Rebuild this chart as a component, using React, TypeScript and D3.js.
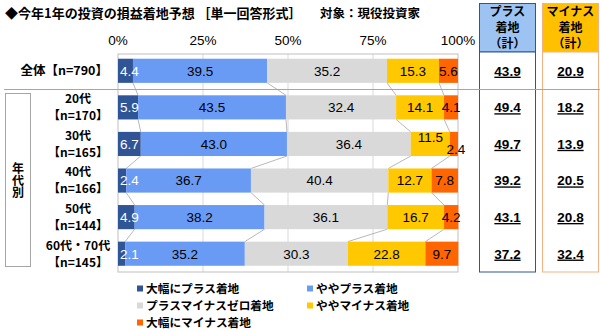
import React from "react";
import * as d3 from "d3";

const categories = ["全体", "20代", "30代", "40代", "50代", "60代・70代"];
const sampleSizes = ["790", "170", "165", "166", "144", "145"];
const seriesNames = ["大幅にプラス着地", "ややプラス着地", "プラスマイナスゼロ着地", "ややマイナス着地", "大幅にマイナス着地"];
const bigPlus = [4.4, 5.9, 6.7, 2.4, 4.9, 2.1];
const slightPlus = [39.5, 43.5, 43.0, 36.7, 38.2, 35.2];
const zeroResult = [35.2, 32.4, 36.4, 40.4, 36.1, 30.3];
const slightMinus = [15.3, 14.1, 11.5, 12.7, 16.7, 22.8];
const bigMinus = [5.6, 4.1, 2.4, 7.8, 4.2, 9.7];
const plusTotal = [43.9, 49.4, 49.7, 39.2, 43.1, 37.2];
const minusTotal = [20.9, 18.2, 13.9, 20.5, 20.8, 32.4];
const axisTicks = [0, 25, 50, 75, 100];

const colors = ["#2F5597", "#6A9BF4", "#D9D9D9", "#FFC800", "#FF6600"];
const FONT = "'Liberation Sans', 'Noto Sans CJK JP', sans-serif";
const JFONT = "'Noto Sans CJK JP', sans-serif";

export default function App() {
  const W = 600, H = 331;
  const series = [bigPlus, slightPlus, zeroResult, slightMinus, bigMinus];
  const x = d3.scaleLinear().domain([0, 100]).range([118, 458]);
  const y = d3.scaleBand<number>().domain(d3.range(categories.length)).range([52.5, 272]).paddingInner(0.34).paddingOuter(0.17);
  const bh = y.bandwidth();
  const rows = categories.map((c, i) => {
    let acc = 0;
    const segs = series.map((s, k) => {
      const x0 = acc;
      acc += s[i];
      return { k, v: s[i], x0, x1: acc };
    });
    return segs;
  });
  const plotTop = 54, plotBottom = 272;

  return (
    <svg width={W} height={H} style={{ position: "absolute", left: 0, top: 0, background: "#fff" }}>
      {/* title */}
      <text x={5} y={18} fontFamily={JFONT} fontWeight="bold" fontSize={13} fill="#000">
        ◆今年1年の投資の損益着地予想 ［単一回答形式］
      </text>
      <text x={320} y={18} fontFamily={JFONT} fontWeight="bold" fontSize={12.5} fill="#000">
        対象：現役投資家
      </text>
      {/* axis ticks */}
      {axisTicks.map((t) => (
        <text key={t} x={x(t)} y={45} textAnchor="middle" fontFamily={FONT} fontSize={13.5} fill="#000">
          {t}%
        </text>
      ))}
      {/* gridlines */}
      {axisTicks.slice(1, 4).map((t) => (
        <line key={t} x1={x(t)} x2={x(t)} y1={plotTop} y2={plotBottom} stroke="#D9D9D9" strokeWidth={1} />
      ))}
      {/* frame */}
      <rect x={x(0)} y={plotTop} width={x(100) - x(0)} height={plotBottom - plotTop} fill="none" stroke="#BFBFBF" strokeWidth={1} />
      {/* separator */}
      <line x1={4} x2={600} y1={89.5} y2={89.5} stroke="#A6A6A6" strokeWidth={1} />
      {/* series lines */}
      {rows.slice(0, -1).map((segs, i) =>
        segs.slice(0, 4).map((s, k) => (
          <line key={`c${i}-${k}`} x1={x(s.x1)} y1={(y(i) as number) + bh} x2={x(rows[i + 1][k].x1)} y2={y(i + 1) as number} stroke="#A6A6A6" strokeWidth={0.8} />
        ))
      )}
      {/* bars */}
      {rows.map((segs, i) =>
        segs.map((s) => (
          <rect key={`b${i}-${s.k}`} x={x(s.x0)} y={y(i)} width={x(s.x1) - x(s.x0)} height={bh} fill={colors[s.k]} />
        ))
      )}
      {/* bar labels */}
      {rows.map((segs, i) => {
        const cy = (y(i) as number) + bh / 2;
        return segs.map((s, k) => {
          let dy = 0;
          const next = segs[k + 1];
          if (k > 0 && s.v < 3) dy = 5;
          else if (next && next.k > 0 && next.v < 3) dy = -7;
          const cx = (x(s.x0) + x(s.x1)) / 2;
          const first = k === 0;
          return (
            <text key={`l${i}-${k}`} x={first ? x(0) + 2 : k > 0 && s.v < 3 ? cx + 2 : cx} y={cy + dy} dy="0.36em" textAnchor={first ? "start" : "middle"} fontFamily={FONT} fontSize={13.5} fill={first ? "#fff" : "#000"}>
              {s.v.toFixed(1)}
            </text>
          );
        });
      })}
      {/* row labels */}
      {categories.map((c, i) => {
        const cy = (y(i) as number) + bh / 2;
        if (i === 0) {
          return (
            <text key={c} x={108} y={cy} dy="0.36em" textAnchor="end" fontFamily={JFONT} fontWeight="bold" fontSize={12.5}>
              {c}【n={sampleSizes[i]}】
            </text>
          );
        }
        return (
          <g key={c}>
            <text x={78} y={cy - 8.5} dy="0.36em" textAnchor="middle" fontFamily={JFONT} fontWeight="bold" fontSize={12}>{c}</text>
            <text x={78} y={cy + 8.5} dy="0.36em" textAnchor="middle" fontFamily={JFONT} fontWeight="bold" fontSize={12}>【n={sampleSizes[i]}】</text>
          </g>
        );
      })}
      {/* 年代別 box */}
      <rect x={5.5} y={93.5} width={25} height={173} fill="none" stroke="#A6A6A6" strokeWidth={1} />
      <text x={18} y={180} textAnchor="middle" fontFamily={JFONT} fontWeight="bold" fontSize={12} style={{ writingMode: "vertical-rl" }}>年代別</text>
      {/* right boxes */}
      {[
        { x0: 479.5, label: "プラス", fill: "#9DC3F2", stroke: "#2F5597", vals: plusTotal },
        { x0: 542.5, label: "マイナス", fill: "#FFC000", stroke: "#F4B183", vals: minusTotal },
      ].map((b) => {
        const w = 56;
        const cx = b.x0 + w / 2;
        return (
          <g key={b.label}>
            <rect x={b.x0} y={3.5} width={w} height={48.5} fill={b.fill} stroke={b.stroke} strokeWidth={1} />
            <rect x={b.x0} y={52} width={w} height={220} fill="#fff" stroke={b.stroke} strokeWidth={1} />
            {[b.label, "着地", "（計）"].map((t, j) => (
              <text key={t} x={cx} y={12 + j * 16} dy="0.36em" textAnchor="middle" fontFamily={JFONT} fontWeight="bold" fontSize={12}>{t}</text>
            ))}
            {b.vals.map((v, i) => {
              const cy = (y(i) as number) + bh / 2;
              return (
                <text key={i} x={cx} y={cy} dy="0.36em" textAnchor="middle" fontFamily={FONT} fontWeight="bold" fontSize={13.5} textDecoration="underline">
                  {v.toFixed(1)}
                </text>
              );
            })}
          </g>
        );
      })}
      <line x1={479} x2={600} y1={89.5} y2={89.5} stroke="#A6A6A6" strokeWidth={1} />
      {/* legend */}
      {seriesNames.map((n, k) => {
        const pos = [
          [137, 288.5], [307, 288.5], [137, 305.5], [307, 305.5], [137, 322.5],
        ][k];
        return (
          <g key={n}>
            <rect x={pos[0]} y={pos[1] - 3} width={6} height={6} fill={colors[k]} />
            <text x={pos[0] + 9} y={pos[1]} dy="0.36em" fontFamily={JFONT} fontWeight="bold" fontSize={11.7}>{n}</text>
          </g>
        );
      })}
    </svg>
  );
}
